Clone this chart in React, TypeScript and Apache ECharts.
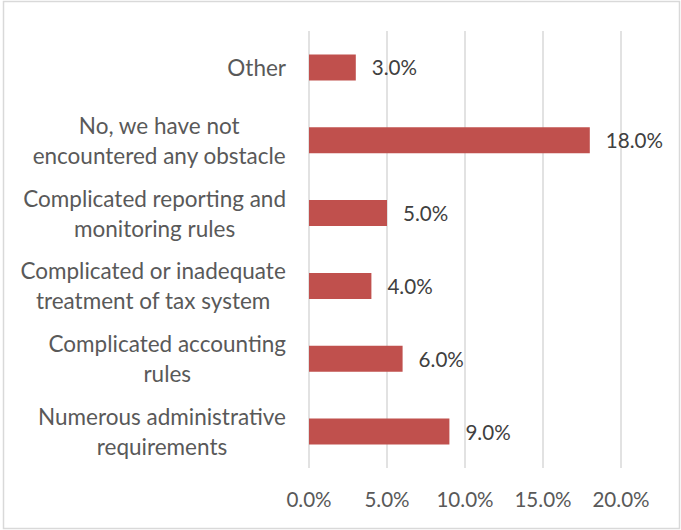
import React, { useEffect, useRef } from "react";
import * as echarts from "echarts";

const categories: string[] = [
  "Numerous administrative\nrequirements",
  "Complicated accounting\nrules",
  "Complicated or inadequate\ntreatment of tax system",
  "Complicated reporting and\nmonitoring rules",
  "No, we have not\nencountered any obstacle",
  "Other",
];
const values: number[] = [9, 6, 4, 5, 18, 3];
const xTicks = { min: 0, max: 20, interval: 5 };

const FONT = "Lato, 'Open Sans', sans-serif";
const CAT_SIZE = 22.5;
const NUM_SIZE = 20.6;

function measure(text: string): number {
  const c = document.createElement("canvas");
  const ctx = c.getContext("2d")!;
  ctx.font = `${CAT_SIZE}px ${FONT}`;
  return ctx.measureText(text).width;
}

export default function App() {
  const ref = useRef<HTMLDivElement>(null);
  useEffect(() => {
    document.body.style.margin = "0";
    const chart = echarts.init(ref.current!, undefined, { renderer: "svg" });
    const rich: Record<string, any> = {};
    categories.forEach((cat, i) => {
      const w = Math.max(...cat.split("\n").map(measure)) + 2;
      rich["c" + i] = {
        width: w,
        align: "center",
        fontFamily: FONT,
        fontSize: CAT_SIZE,
        color: "#595959",
        lineHeight: 30,
      };
    });
    chart.setOption({
      animation: false,
      backgroundColor: "#ffffff",
      textStyle: { fontFamily: FONT },
      graphic: [
        {
          type: "rect",
          shape: { x: 3.5, y: 1.5, width: 676, height: 527 },
          style: { fill: "none", stroke: "#d9d9d9", lineWidth: 1.5 },
          silent: true,
        },
      ],
      grid: { left: 309, right: 60, top: 31, bottom: 62 },
      xAxis: {
        type: "value",
        min: xTicks.min,
        max: xTicks.max,
        interval: xTicks.interval,
        axisLine: { show: false },
        axisTick: { show: false },
        splitLine: { lineStyle: { color: "#d9d9d9", width: 1.5 } },
        axisLabel: {
          formatter: (v: number) => v.toFixed(1) + "%",
          color: "#595959",
          fontSize: NUM_SIZE,
          fontFamily: FONT,
          margin: 20,
        },
      },
      yAxis: {
        type: "category",
        data: categories,
        axisLine: { show: false },
        axisTick: { show: false },
        axisLabel: {
          margin: 22,
          formatter: (v: string, i: number) =>
            v
              .split("\n")
              .map((l) => `{c${i}|${l}}`)
              .join("\n"),
          rich,
        },
      },
      series: [
        {
          type: "bar",
          data: values,
          barWidth: 26,
          itemStyle: { color: "#c0504d" },
          label: {
            show: true,
            position: "right",
            distance: 16,
            formatter: (p: any) => Number(p.value).toFixed(1) + "%",
            color: "#404040",
            fontSize: NUM_SIZE,
            fontFamily: FONT,
          },
        },
      ],
    });
    return () => chart.dispose();
  }, []);
  return <div ref={ref} style={{ width: 681, height: 530 }} />;
}
